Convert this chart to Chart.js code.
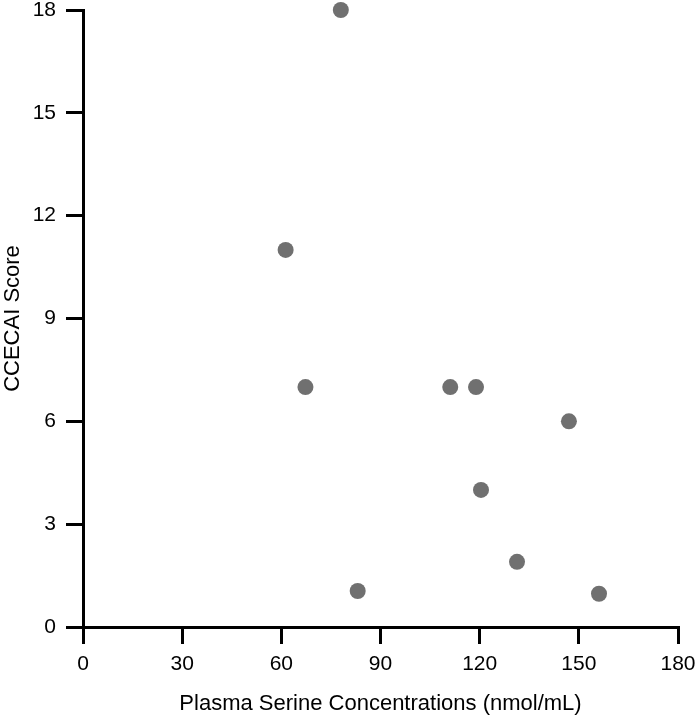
<!DOCTYPE html>
<html lang="en">
<head>
    <meta charset="UTF-8">
    <title>CCECAI Score vs Plasma Serine</title>
    <script src="https://cdn.jsdelivr.net/npm/chart.js"></script>
    <style>
        body {
            margin: 0;
            background: #fff;
        }

        .wrap {
            width: 696px;
            height: 717px;
        }
    </style>
</head>
<body>
    <div class="wrap">
        <canvas id="scatter"></canvas>
    </div>

    <script>
        // plasma serine (nmol/mL) and CCECAI score per dog
        const serine = [61.3, 67.3, 78.0, 83.1, 111.1, 118.9, 120.4, 131.3, 147.0, 156.1];
        const score = [11, 7, 18, 1.05, 7, 7, 4, 1.9, 6, 0.97];

        const xTitle = "Plasma Serine Concentrations (nmol/mL)";
        const yTitle = "CCECAI Score";

        const points = serine.map((x, i) => ({ x: x, y: score[i] }));

        const tickFont = { family: "'Liberation Sans', Arial, sans-serif", size: 21 };
        const titleFont = { family: "'Liberation Sans', Arial, sans-serif", size: 22 };

        new Chart(document.getElementById("scatter").getContext("2d"), {
            type: "scatter",
            data: {
                datasets: [{
                    data: points,
                    backgroundColor: "#707070",
                    borderWidth: 0,
                    pointRadius: 8,
                    pointHoverRadius: 8,
                    clip: false
                }]
            },
            options: {
                responsive: true,
                maintainAspectRatio: false,
                animation: false,
                layout: {
                    padding: { top: 10, right: 18, left: 0, bottom: 0 }
                },
                plugins: {
                    legend: { display: false },
                    tooltip: { enabled: false }
                },
                scales: {
                    x: {
                        type: "linear",
                        min: 0,
                        max: 180,
                        border: { color: "#000", width: 3 },
                        grid: {
                            drawOnChartArea: false,
                            color: "#000",
                            lineWidth: 3,
                            tickLength: 17
                        },
                        ticks: {
                            stepSize: 30,
                            color: "#000",
                            font: tickFont,
                            padding: 8
                        },
                        title: {
                            display: true,
                            text: xTitle,
                            color: "#000",
                            font: titleFont,
                            padding: { top: 5, bottom: 0 }
                        },
                        afterFit: function (axis) {
                            axis.height = 90;
                            axis.paddingLeft = 0;
                            axis.paddingRight = 0;
                        }
                    },
                    y: {
                        type: "linear",
                        min: 0,
                        max: 18,
                        border: { color: "#000", width: 3 },
                        grid: {
                            drawOnChartArea: false,
                            color: "#000",
                            lineWidth: 3,
                            tickLength: 17
                        },
                        ticks: {
                            stepSize: 3,
                            color: "#000",
                            font: tickFont,
                            padding: 10
                        },
                        title: {
                            display: true,
                            text: yTitle,
                            color: "#000",
                            font: titleFont,
                            padding: { top: 0, bottom: 4 }
                        },
                        afterFit: function (axis) {
                            axis.width = 83;
                            axis.paddingTop = 0;
                            axis.paddingBottom = 0;
                        }
                    }
                }
            }
        });
    </script>
</body>
</html>
